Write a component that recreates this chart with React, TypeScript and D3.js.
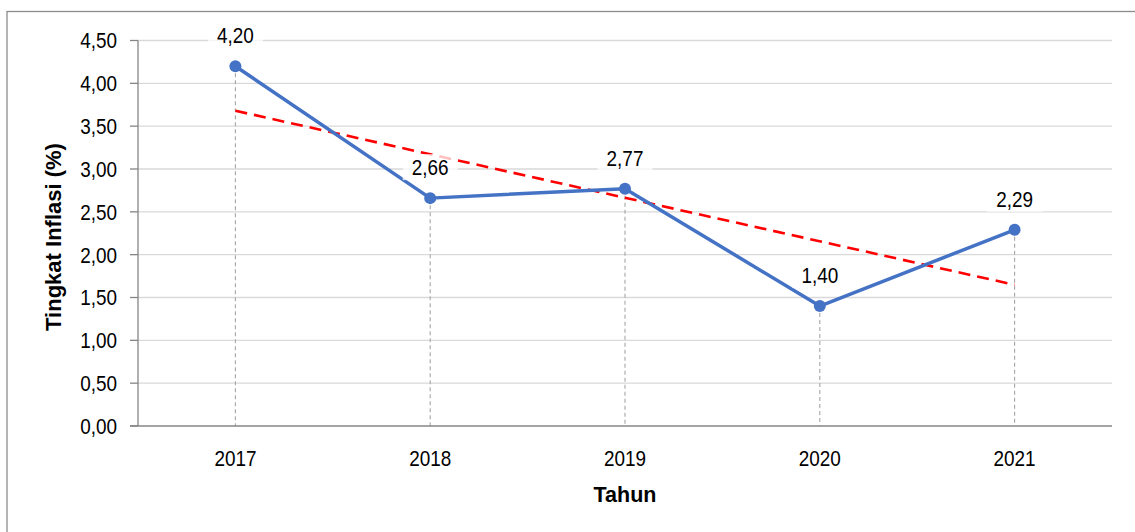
import React from "react";
import * as d3 from "d3";

const years = ["2017", "2018", "2019", "2020", "2021"];
const inflation = [4.2, 2.66, 2.77, 1.4, 2.29];
const yTicks = [0, 0.5, 1, 1.5, 2, 2.5, 3, 3.5, 4, 4.5];
const yTitle = "Tingkat Inflasi (%)";
const xTitle = "Tahun";

const W = 1135;
const H = 532;
const FONT = "'Liberation Sans', Arial, sans-serif";
const fmt = (v: number) => v.toFixed(2).replace(".", ",");

// condensed text (imitates a narrow face)
function NText(props: { x: number; y: number; anchor: string; size: number; dy?: string; children: any }) {
  return (
    <g transform={`translate(${props.x},${props.y}) scale(0.86,1)`}>
      <text x={0} y={0} dy={props.dy} textAnchor={props.anchor} fontSize={props.size} fill="#000">
        {props.children}
      </text>
    </g>
  );
}

export default function App() {
  const left = 138, right = 1112, top = 40.5, bottom = 426;
  const x = d3.scaleBand<string>().domain(years).range([left, right]).padding(0);
  const y = d3.scaleLinear().domain([0, 4.5]).range([bottom, top]);
  const cx = (yr: string) => (x(yr) as number) + x.bandwidth() / 2;

  // linear trendline (least squares)
  const n = inflation.length;
  const idx = inflation.map((_, i) => i);
  const mx = d3.mean(idx) as number;
  const my = d3.mean(inflation) as number;
  const slope =
    d3.sum(idx.map((i) => (i - mx) * (inflation[i] - my))) /
    d3.sum(idx.map((i) => (i - mx) * (i - mx)));
  const icpt = my - slope * mx;
  const t0 = icpt;
  const t1 = icpt + slope * (n - 1);

  const line = d3
    .line<number>()
    .x((_, i) => cx(years[i]))
    .y((d) => y(d));

  return (
    <svg
      width={W}
      height={H}
      style={{ position: "absolute", left: 0, top: 0, background: "#fff" }}
      fontFamily={FONT}
    >
      <rect x={0} y={0} width={W} height={H} fill="#fff" />
      {/* outer chart border */}
      <rect x={7} y={11.5} width={W} height={H} fill="none" stroke="#8c8c8c" strokeWidth={1.3} />

      {/* gridlines */}
      {yTicks.slice(1).map((t) => (
        <line key={t} x1={left} x2={right} y1={y(t)} y2={y(t)} stroke="#d9d9d9" strokeWidth={1.4} />
      ))}

      {/* drop lines */}
      {inflation.map((v, i) => (
        <line
          key={"d" + i}
          x1={cx(years[i])}
          x2={cx(years[i])}
          y1={y(v)}
          y2={bottom}
          stroke="#a6a6a6"
          strokeWidth={1.1}
          strokeDasharray="4,3"
        />
      ))}

      {/* axes */}
      <line x1={left} x2={left} y1={top} y2={bottom} stroke="#868686" strokeWidth={1.3} />
      <line x1={left - 8} x2={right} y1={bottom} y2={bottom} stroke="#868686" strokeWidth={1.3} />
      {yTicks.map((t) => (
        <g key={"yt" + t}>
          <line x1={left - 8} x2={left} y1={y(t)} y2={y(t)} stroke="#868686" strokeWidth={1.3} />
          <NText x={117} y={y(t)} dy="0.36em" anchor="end" size={22}>
            {fmt(t)}
          </NText>
        </g>
      ))}
      {years.map((yr) => (
        <NText key={"xt" + yr} x={cx(yr)} y={466} anchor="middle" size={22}>
          {yr}
        </NText>
      ))}

      {/* trendline */}
      <line
        x1={cx(years[0])}
        x2={cx(years[n - 1])}
        y1={y(t0)}
        y2={y(t1)}
        stroke="#ff0000"
        strokeWidth={2.6}
        strokeDasharray="12,7"
      />

      {/* series line */}
      <path d={line(inflation) as string} fill="none" stroke="#4472c4" strokeWidth={3.5} strokeLinejoin="round" />
      {inflation.map((v, i) => (
        <circle key={"c" + i} cx={cx(years[i])} cy={y(v)} r={6} fill="#4472c4" />
      ))}

      {/* data labels */}
      {inflation.map((v, i) => (
        <g key={"l" + i}>
          <rect
            x={cx(years[i]) - 27.5}
            y={y(v) - 44}
            width={55}
            height={26}
            fill="#fff"
            fillOpacity={0.75}
          />
          <NText x={cx(years[i])} y={y(v) - 23} anchor="middle" size={22}>
            {fmt(v)}
          </NText>
        </g>
      ))}

      {/* axis titles */}
      <text
        transform={`translate(61, 237) rotate(-90)`}
        textAnchor="middle"
        fontSize={22}
        fontWeight="bold"
        fill="#000"
      >
        {yTitle}
      </text>
      <text x={cx(years[2])} y={502} textAnchor="middle" fontSize={21.5} fontWeight="bold" fill="#000">
        {xTitle}
      </text>
    </svg>
  );
}
